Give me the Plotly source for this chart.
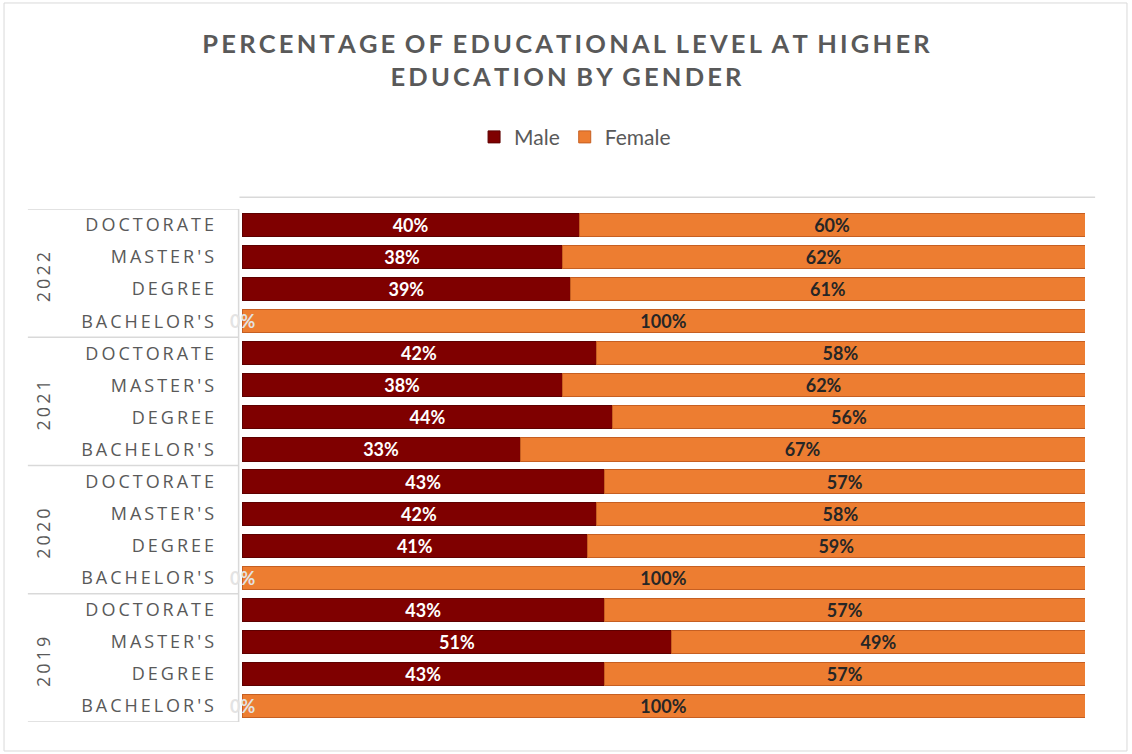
import plotly.graph_objects as go

# ---- data (bottom to top) ----
years = ["2019", "2020", "2021", "2022"]
levels = ["BACHELOR'S", "DEGREE", "MASTER'S", "DOCTORATE"]
male = {
    "2019": [0, 43, 51, 43],
    "2020": [0, 41, 42, 43],
    "2021": [33, 44, 38, 42],
    "2022": [0, 39, 38, 40],
}
female = {
    "2019": [100, 57, 49, 57],
    "2020": [100, 59, 58, 57],
    "2021": [67, 56, 62, 58],
    "2022": [100, 61, 62, 60],
}
title_lines = ["PERCENTAGE OF EDUCATIONAL LEVEL AT HIGHER", "EDUCATION BY GENDER"]

SEP = "\u2009"


def spaced(s, sep=SEP):
    words = s.split(" ")
    return (sep * 3).join(sep.join(list(w)) for w in words)


cats, male_vals, female_vals, tick_text = [], [], [], []
for y in years:
    for i, lv in enumerate(levels):
        cats.append(f"{y} {lv}")
        male_vals.append(male[y][i])
        female_vals.append(female[y][i])
        tick_text.append(spaced(lv))

MALE_C = "#7F0000"
FEMALE_C = "#ED7D31"
GREY = "#595959"
LINE = "#D9D9D9"
LABEL_SIZE = 18

fig = go.Figure()
fig.add_trace(go.Bar(
    y=cats, x=male_vals, orientation="h", name="Male",
    marker=dict(color=MALE_C, line=dict(color="#5E0000", width=1)),
    text=[f"{v}%" if v > 0 else "" for v in male_vals],
    textposition="inside", insidetextanchor="middle", constraintext="none",
    textfont=dict(color="white", size=LABEL_SIZE, family="Lato", weight="bold"),
    width=0.72, hoverinfo="skip",
))
fig.add_trace(go.Bar(
    y=cats, x=female_vals, orientation="h", name="Female",
    marker=dict(color=FEMALE_C, line=dict(color="#C65F22", width=1)),
    text=[f"{v}%" if v > 0 else "" for v in female_vals],
    textposition="inside", insidetextanchor="middle", constraintext="none",
    textfont=dict(color="#262626", size=LABEL_SIZE, family="Lato", weight="bold"),
    width=0.72, hoverinfo="skip",
))

# 0% labels for zero-width male segments
for idx, v in enumerate(male_vals):
    if v == 0:
        fig.add_annotation(x=0, y=idx, xref="x", yref="y", text="0%",
                           showarrow=False, xanchor="center",
                           font=dict(color="#E3E3E3", size=LABEL_SIZE, family="Lato", weight="bold"))

# year group labels and dividers
for g, y in enumerate(years):
    fig.add_annotation(x=-0.236, y=4 * g + 1.5, xref="paper", yref="y",
                       xanchor="center", yanchor="middle", yshift=-4,
                       text=SEP.join(list(y)), textangle=-90, showarrow=False,
                       font=dict(color=GREY, size=18, family="Open Sans"))
for k in range(len(years) + 1):
    fig.add_shape(type="line", xref="paper", yref="y",
                  x0=-0.254, x1=-0.004, y0=4 * k - 0.5, y1=4 * k - 0.5,
                  line=dict(color=LINE, width=1.5))

# back wall top line and left axis line
fig.add_shape(type="line", xref="paper", yref="paper", x0=-0.003, x1=1.012,
              y0=1.023, y1=1.023, line=dict(color=LINE, width=1.5))
fig.add_shape(type="line", xref="paper", yref="paper", x0=-0.004, x1=-0.004,
              y0=0, y1=1.0, line=dict(color=LINE, width=1.5))
# chart border
fig.add_shape(type="rect", xref="paper", yref="paper", x0=-0.2823, x1=1.0498,
              y0=-0.0565, y1=1.4016, line=dict(color=LINE, width=1))

fig.update_layout(
    width=1132, height=754,
    barmode="stack",
    paper_bgcolor="white", plot_bgcolor="white",
    margin=dict(l=242, r=47, t=209, b=32),
    uniformtext=dict(minsize=LABEL_SIZE, mode="show"),
    title=dict(
        text="<br>".join(spaced(t) for t in title_lines),
        x=0.5, xref="container", xanchor="center",
        y=0.930, yref="container", yanchor="top",
        font=dict(color=GREY, size=25.5, family="Lato", weight="bold"),
    ),
    legend=dict(orientation="h", xref="container", yref="container",
                x=0.508, y=0.818, xanchor="center", yanchor="middle",
                font=dict(color=GREY, size=21, family="Lato"),
                itemwidth=30, traceorder="normal"),
    showlegend=True,
    xaxis=dict(range=[0, 100], showgrid=False, zeroline=False,
               showticklabels=False, fixedrange=True),
    yaxis=dict(type="category", categoryorder="array", categoryarray=cats,
               tickvals=cats, ticktext=tick_text, showgrid=False,
               zeroline=False, ticks="", ticklabelstandoff=27,
               tickfont=dict(color=GREY, size=18, family="Open Sans"),
               range=[-0.5, len(cats) - 0.5], fixedrange=True),
    bargap=0.28,
)

fig.write_html("out.html", config={"displayModeBar": False},
               post_script="document.body.style.margin='0';")
